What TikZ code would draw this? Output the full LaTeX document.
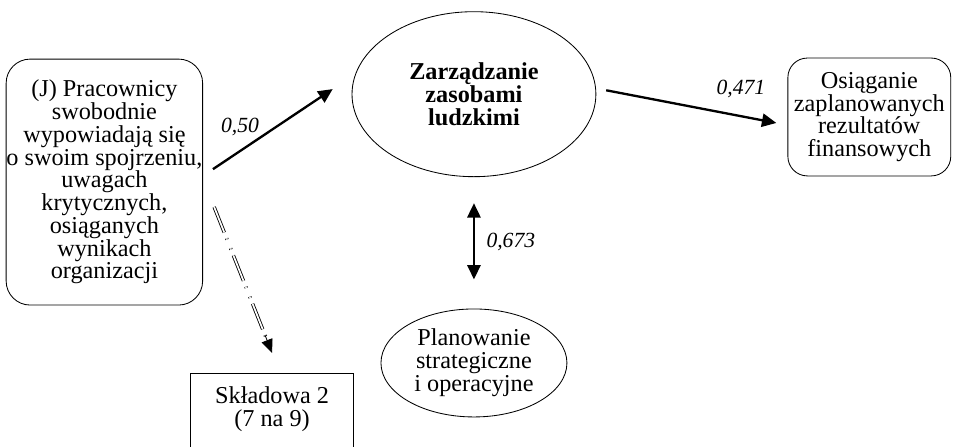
\documentclass[tikz,border=0pt]{standalone}
\usepackage{fontspec}
\setmainfont{Liberation Serif}
\usetikzlibrary{arrows.meta,shapes.geometric}

\begin{document}
\begin{tikzpicture}[
        font=\fontsize{23}{21.6}\selectfont,
        rbox/.style={draw, line width=0.8pt, rounded corners=0.8cm, align=center, inner sep=0pt},
        oval/.style={draw, ellipse, line width=0.8pt, align=center, inner sep=0pt},
        weight/.style={font=\fontsize{20.5}{20.5}\selectfont\itshape},
        headtri/.tip={Triangle[length=0.48cm,width=0.44cm]},
        effect/.style={line width=2.2pt, -headtri},
        dbldash/.style={double, line width=0.8pt, double distance=1.6pt,
            dash pattern=on 26pt off 6pt on 1.2pt off 9pt on 1.2pt off 6pt}
    ]
            \useasboundingbox (0,0) rectangle (31.77,14.87);

            % Drawing the boxes
            \node[rbox, minimum width=6.55cm, minimum height=8.2cm] (prac) at (3.48,8.8)
                {(J) Pracownicy\\swobodnie\\wypowiadają się\\o swoim spojrzeniu,\\uwagach\\krytycznych,\\osiąganych\\wynikach\\organizacji};
            \node[rbox, rounded corners=0.65cm, minimum width=5.43cm, minimum height=3.93cm] (osr) at (28.98,10.97)
                {Osiąganie\\zaplanowanych\\rezultatów\\finansowych};
            \node[minimum width=5.4cm, minimum height=2.4cm, align=center] (skl) at (9.07,1.23)
                {Składowa 2\\(7 na 9)};
            \draw[line width=0.8pt] ([yshift=-0.5cm]skl.south west) -- (skl.north west)
                -- (skl.north east) -- ([yshift=-0.5cm]skl.south east);

            % Drawing the ellipses
            \node[oval, minimum width=8.13cm, minimum height=5.5cm, font=\fontsize{23}{21.4}\selectfont\bfseries] (zzl) at (15.8,11.73)
                {Zarządzanie\\zasobami\\ludzkimi};
            \node[oval, minimum width=6.2cm, minimum height=3.6cm] (plan) at (15.8,2.77)
                {Planowanie\\strategiczne\\i operacyjne};

            % Drawing the arrows
            \draw[effect] ([xshift=0.33cm,yshift=0.43cm]prac.east) -- ([xshift=-0.63cm,yshift=0.17cm]zzl.west);
            \draw[effect] ([xshift=0.33cm,yshift=0.13cm]zzl.east) -- ([xshift=-0.37cm,yshift=-0.2cm]osr.west);
            \draw[effect, headtri-headtri] ([yshift=-0.87cm]zzl.south) -- ([yshift=0.97cm]plan.north);

            % Dashed double line down to the component box
            \coordinate (d1) at ([xshift=0.37cm,yshift=-0.83cm]prac.east);
            \coordinate (d2) at ([yshift=0.67cm]skl.north);
            \draw[dbldash, shorten >=0.35cm] (d1) -- (d2);
            \draw[line width=0.8pt, -{Triangle[length=0.45cm,width=0.38cm]}, shorten <=4.6cm] (d1) -- (d2);

            % Labels
            \node[weight] (w1) at (8.0,10.63) {0,50};
            \node[weight] (w2) at (24.7,11.9) {0,471};
            \node[weight] (w3) at (17.03,6.8) {0,673};
        \end{tikzpicture}
\end{document}
